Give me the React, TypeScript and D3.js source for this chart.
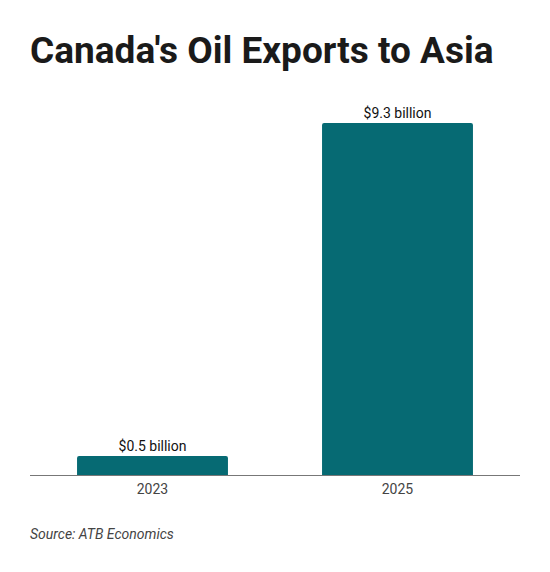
import React from "react";
import * as d3 from "d3";

const categories = ["2023", "2025"];
const values = [0.5, 9.3];
const valueLabels = ["$0.5 billion", "$9.3 billion"];
const title = "Canada's Oil Exports to Asia";
const source = "Source: ATB Economics";

export default function App() {
  const W = 550, H = 572;
  const left = 30, right = 520, baseY = 475, topY = 123;
  const x = d3.scaleBand<string>().domain(categories).range([left, right]).paddingInner(0.384).paddingOuter(0.192);
  const y = d3.scaleLinear().domain([0, 9.3]).range([baseY, topY]);
  const r = 2;
  const barPath = (x0: number, y0: number, w: number, h: number) =>
    `M${x0},${y0 + h}V${y0 + r}Q${x0},${y0} ${x0 + r},${y0}H${x0 + w - r}Q${x0 + w},${y0} ${x0 + w},${y0 + r}V${y0 + h}Z`;
  return (
    <svg width={W} height={H} style={{ position: "absolute", left: 0, top: 0, background: "#fff" }}>
      <text x={30} y={63} fontFamily="Roboto" fontWeight={700} fontSize={37} fill="#1a1a1a">{title}</text>
      {categories.map((c, i) => {
        const bx = x(c)!;
        const by = y(values[i]);
        return (
          <g key={c}>
            <path d={barPath(bx, by, x.bandwidth(), baseY - by)} fill="#066a73" />
            <text x={bx + x.bandwidth() / 2} y={by - 5} textAnchor="middle" fontFamily="Roboto" fontSize={14} fill="#111">{valueLabels[i]}</text>
            <text x={bx + x.bandwidth() / 2} y={494} textAnchor="middle" fontFamily="Roboto" fontSize={14} fill="#444">{c}</text>
          </g>
        );
      })}
      <line x1={left} x2={right} y1={baseY + 0.5} y2={baseY + 0.5} stroke="#777" strokeWidth={1} />
      <text x={30} y={539} fontFamily="Roboto" fontStyle="italic" fontSize={14} fill="#444">{source}</text>
    </svg>
  );
}
